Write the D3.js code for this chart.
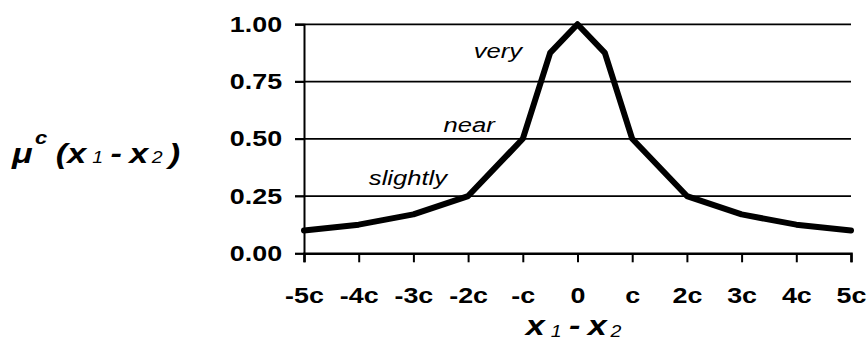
<!DOCTYPE html>
<html>
<head>
<meta charset="utf-8">
<script src="https://cdn.jsdelivr.net/npm/d3@7"></script>
<style>
  body { margin: 0; background: #fff; }
  text { font-family: Arial, "Liberation Sans", sans-serif; fill: #000; }
</style>
</head>
<body>
<svg id="chart" width="867" height="343"></svg>
<script>
// Membership of the fuzzy relation "close to" as a function of x1 - x2 (in units of c)
const xValues  = [-5, -4, -3, -2, -1, -0.5, 0, 0.5, 1, 2, 3, 4, 5];
const muValues = [0.1, 0.125, 0.17, 0.25, 0.5, 0.875, 1, 0.875, 0.5, 0.25, 0.17, 0.125, 0.1];

const xTicks      = [-5, -4, -3, -2, -1, 0, 1, 2, 3, 4, 5];
const xTickLabels = ["-5c", "-4c", "-3c", "-2c", "-c", "0", "c", "2c", "3c", "4c", "5c"];
const yTicks      = [0, 0.25, 0.5, 0.75, 1];

// hedge words, each tied to the curve point it describes
const hedgeLabels = ["slightly", "near", "very"];
const hedgeAt     = [-2, -1, -0.5];

const svg = d3.select("#chart");
const stretch = 1.22;   // wide glyph proportions used throughout the figure

const x = d3.scaleLinear().domain([-5, 5]).range([304, 851]);
const y = d3.scaleLinear().domain([0, 1]).range([253.3, 24.3]);

// horizontal gridlines
svg.append("g")
  .selectAll("line")
  .data(yTicks.filter(d => d > 0))
  .join("line")
  .attr("x1", x(-5) - 9).attr("x2", x(5))
  .attr("y1", d => y(d)).attr("y2", d => y(d))
  .attr("stroke", "#000").attr("stroke-width", 1.8);

// y axis
const yAxis = svg.append("g")
  .attr("transform", `translate(${x(-5)},0)`)
  .call(d3.axisLeft(y).tickValues(yTicks).tickSize(9).tickPadding(9)
        .tickFormat(d3.format(".2f")));
yAxis.select(".domain").attr("stroke-width", 2);
yAxis.selectAll(".tick line").attr("stroke-width", 1.8);
yAxis.selectAll(".tick text")
  .attr("font-size", 22).attr("font-weight", "bold")
  .attr("font-family", "Arial, 'Liberation Sans', sans-serif")
  .attr("transform", `scale(${stretch},1)`);

// x axis
const xAxis = svg.append("g")
  .attr("transform", `translate(0,${y(0)})`)
  .call(d3.axisBottom(x).tickValues(xTicks).tickSize(9)
        .tickFormat((d, i) => xTickLabels[i]));
xAxis.select(".domain").attr("stroke-width", 2.5);
xAxis.selectAll(".tick line").attr("stroke-width", 2);
xAxis.selectAll(".tick text")
  .attr("font-size", 22).attr("font-weight", "bold")
  .attr("font-family", "Arial, 'Liberation Sans', sans-serif")
  .attr("y", 50).attr("dy", 0)
  .attr("transform", `scale(${stretch},1)`);

// membership curve
const line = d3.line().x((d, i) => x(xValues[i])).y(d => y(d));
svg.append("path")
  .datum(muValues)
  .attr("d", line)
  .attr("fill", "none")
  .attr("stroke", "#000")
  .attr("stroke-width", 6)
  .attr("stroke-linejoin", "round")
  .attr("stroke-linecap", "round");

// hedge annotations, placed up-left of their curve points
const hedgeOffsets = { slightly: [-21, -11], near: [-28, -7], very: [-28, 5.5] };
hedgeLabels.forEach((label, i) => {
  const xi = hedgeAt[i];
  const mu = muValues[xValues.indexOf(xi)];
  const [dx, dy] = hedgeOffsets[label];
  svg.append("text")
    .attr("transform", `translate(${x(xi) + dx},${y(mu) + dy}) scale(${stretch},1)`)
    .attr("text-anchor", "end")
    .attr("font-size", 21)
    .attr("font-style", "italic")
    .text(label);
});

// axis titles
const yTitle = svg.append("text")
  .attr("transform", `translate(12,163) scale(${stretch},1)`)
  .attr("font-size", 28).attr("font-weight", "bold").attr("font-style", "italic");
yTitle.append("tspan").text("\u03bc");
yTitle.append("tspan").attr("font-size", 18).attr("dy", -19).attr("dx", 2).text("c");
yTitle.append("tspan").attr("dy", 19).attr("dx", 7).text("(x");
yTitle.append("tspan").attr("font-size", 16).attr("font-weight", "normal").attr("dx", 5).text("1");
yTitle.append("tspan").attr("dx", 6).text("-");
yTitle.append("tspan").attr("dx", 6).text("x");
yTitle.append("tspan").attr("font-size", 16).attr("font-weight", "normal").attr("dx", 3).text("2");
yTitle.append("tspan").attr("dx", 5).text(")");

const xTitle = svg.append("text")
  .attr("transform", `translate(${x(0) - 4},335) scale(${stretch},1)`)
  .attr("text-anchor", "middle")
  .attr("font-size", 28).attr("font-weight", "bold").attr("font-style", "italic");
xTitle.append("tspan").text("x");
xTitle.append("tspan").attr("font-size", 16).attr("font-weight", "normal").attr("dy", 2).attr("dx", 5).text("1");
xTitle.append("tspan").attr("dy", -2).attr("dx", 6).text("-");
xTitle.append("tspan").attr("dx", 6).text("x");
xTitle.append("tspan").attr("font-size", 16).attr("font-weight", "normal").attr("dy", 2).attr("dx", 3).text("2");
</script>
</body>
</html>
